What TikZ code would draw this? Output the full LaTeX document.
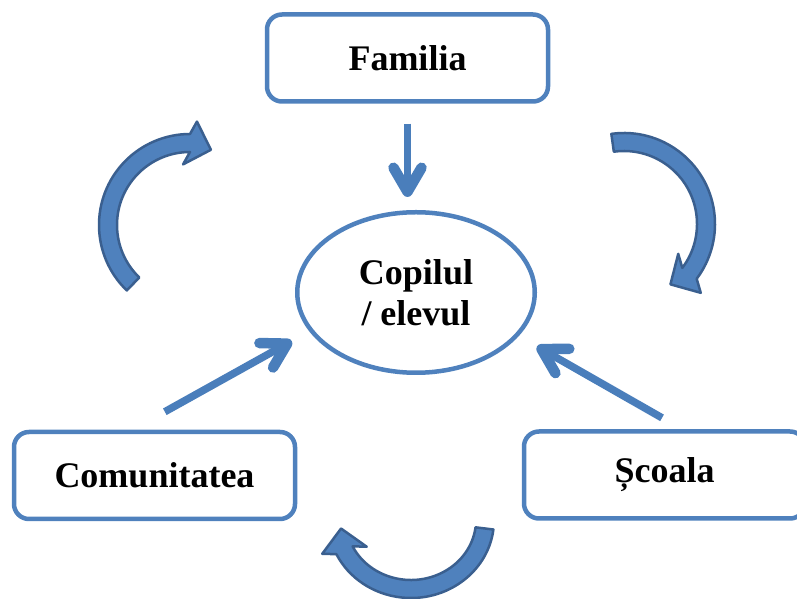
\documentclass[tikz,border=0pt]{standalone}
\usepackage{fontspec}
\setmainfont{Liberation Serif}
\usetikzlibrary{arrows.meta, calc, shapes.geometric}

\definecolor{boxblue}{HTML}{4F81BD}
\definecolor{linkblue}{HTML}{4A7EBB}
\definecolor{bentfill}{HTML}{4F81BD}
\definecolor{bentedge}{HTML}{3A5F8F}

% curved block arrow: centre, start angle, end angle, x radius, y radius, head direction
\newcommand{\bentarrow}[6]{%
    \filldraw[bent] ($(#1)+(#2:#4+9 and #5+9)$)
        arc[start angle=#2, end angle=#3, x radius=#4+9, y radius=#5+9]
        -- ($(#1)+(#3:#4 and #5)+(#6+90:22.5)$)
        -- ($(#1)+(#3:#4 and #5)+(#6:22)$)
        -- ($(#1)+(#3:#4 and #5)+(#6-90:22.5)$)
        -- ($(#1)+(#3:#4-9 and #5-9)$)
        arc[start angle=#3, end angle=#2, x radius=#4-9, y radius=#5-9]
        -- cycle;}

\begin{document}
\begin{tikzpicture}[
                x = 1pt, y = 1pt, % one unit per pixel
                > = {Straight Barb[length=24pt, width=28pt, line width=0pt 1.4, round]}, % open arrow head
                semithick % line style
            ]

            \tikzstyle{box}=[draw = boxblue, line width = 4.5pt, rounded corners = 15pt,
            minimum width = 281pt, minimum height = 87pt, inner sep = 0pt,
            font = \bfseries\fontsize{36}{41}\selectfont]
            \tikzstyle{oval}=[box, ellipse, rounded corners = 0pt, align = center,
            minimum width = 237.5pt, minimum height = 160.5pt]
            \tikzstyle{link}=[->, draw = linkblue, line width = 7.5pt]
            \tikzstyle{bent}=[fill = bentfill, draw = bentedge, line width = 2.5pt,
            line join = round]

            \clip (0,0) rectangle (797,599);

            \node (familia) [box] at (407.5,541) {Familia};
            \node (copil) [oval] at (416,306.5) {Copilul\\/ elevul};
            \node (comunitatea) [box] at (154.5,123.5) {Comunitatea};
            \node (scoala) [box] at (664.5,124) {Școala};

            \draw[link, shorten <=20pt, shorten >=13pt] (familia.south) --
            (familia.south |- copil.north);
            \draw[link, shorten <=37pt, shorten >=20pt] ([xshift=-22pt]comunitatea.north)
            -- (copil.200);
            \draw[link, shorten <=23pt, shorten >=21pt] ([xshift=17.5pt]scoala.north)
            -- (copil.337);

            \bentarrow{190,374}{226}{90}{82}{82}{-18}
            \bentarrow{624,375}{98}{-37}{82}{82}{210}
            \bentarrow{411,79}{-7}{-154}{74}{69}{99}

        \end{tikzpicture}
\end{document}
